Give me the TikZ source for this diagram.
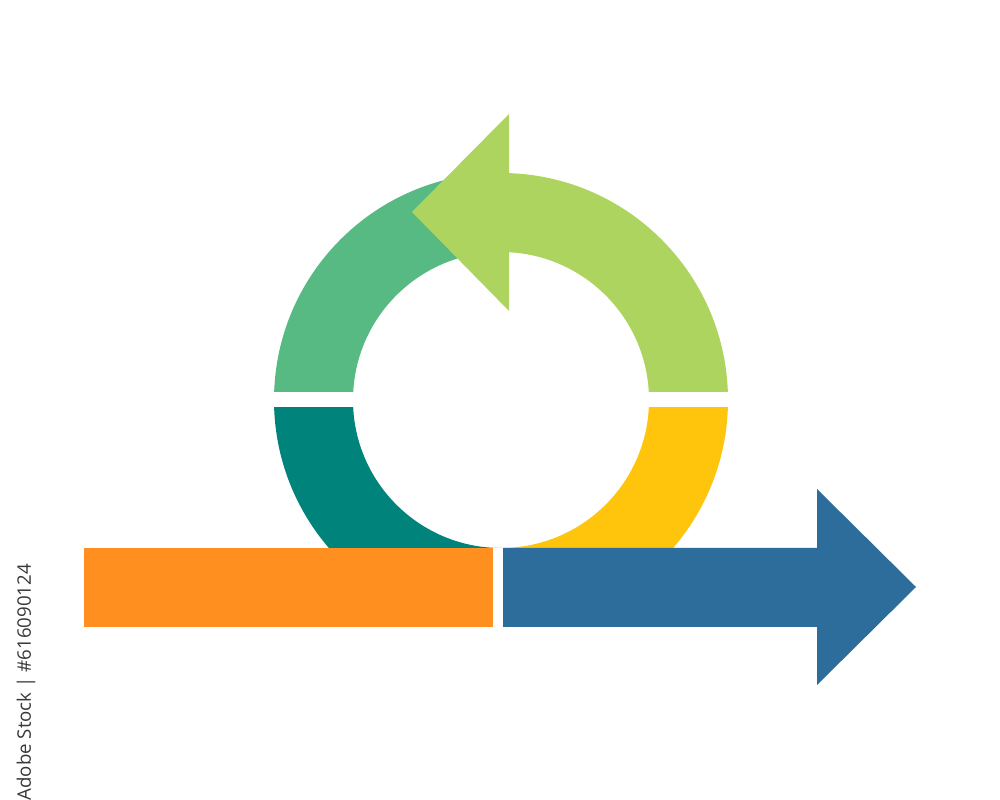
\documentclass[tikz,border=0pt]{standalone}
\usepackage{fontspec}
\newfontfamily\wmfont{Open Sans}
\definecolor{dgreen}{HTML}{57BA83}
\definecolor{lgreen}{HTML}{ADD45F}
\definecolor{teal2}{HTML}{00837B}
\definecolor{yellow2}{HTML}{FFC40C}
\definecolor{orange2}{HTML}{FF8F1E}
\definecolor{blue2}{HTML}{2C6D9C}
\begin{document}
\begin{tikzpicture}[x=0.75pt,y=0.75pt]
\useasboundingbox (0,0) rectangle (1000,800);
\fill[white] (0,0) rectangle (1000,800);
\coordinate (C) at (501,400);
% top half of ring
\begin{scope}
\clip (200,408) rectangle (800,700);
\fill[dgreen] (274,400) arc[start angle=180,end angle=90,radius=170.25pt]
  -- (501,548) arc[start angle=90,end angle=180,radius=111pt] -- cycle;
\fill[lgreen] (728,400) arc[start angle=0,end angle=90,radius=170.25pt]
  -- (501,548) arc[start angle=90,end angle=0,radius=111pt] -- cycle;
\end{scope}
% arrow head on top
\fill[lgreen] (509,686) -- (412,588) -- (509,489) -- cycle;
% bottom half of ring
\begin{scope}
\clip (200,252) rectangle (800,392);
\fill[teal2] (274,400) arc[start angle=180,end angle=270,radius=170.25pt]
  -- (501,252) arc[start angle=270,end angle=180,radius=111pt] -- cycle;
\fill[yellow2] (728,400) arc[start angle=0,end angle=-90,radius=170.25pt]
  -- (501,252) arc[start angle=-90,end angle=0,radius=111pt] -- cycle;
\end{scope}
% bars
\fill[orange2] (84,252) rectangle (493,173);
\fill[blue2] (503,252) -- (817,252) -- (817,311) -- (916,213) -- (817,115)
  -- (817,173) -- (503,173) -- cycle;
% stock id text
\node[rotate=90,anchor=east,inner sep=0pt,text=black!78,font=\wmfont\fontsize{14pt}{17pt}\selectfont] (wm) at (26,236) {Adobe Stock | \#616090124};
\end{tikzpicture}
\end{document}
